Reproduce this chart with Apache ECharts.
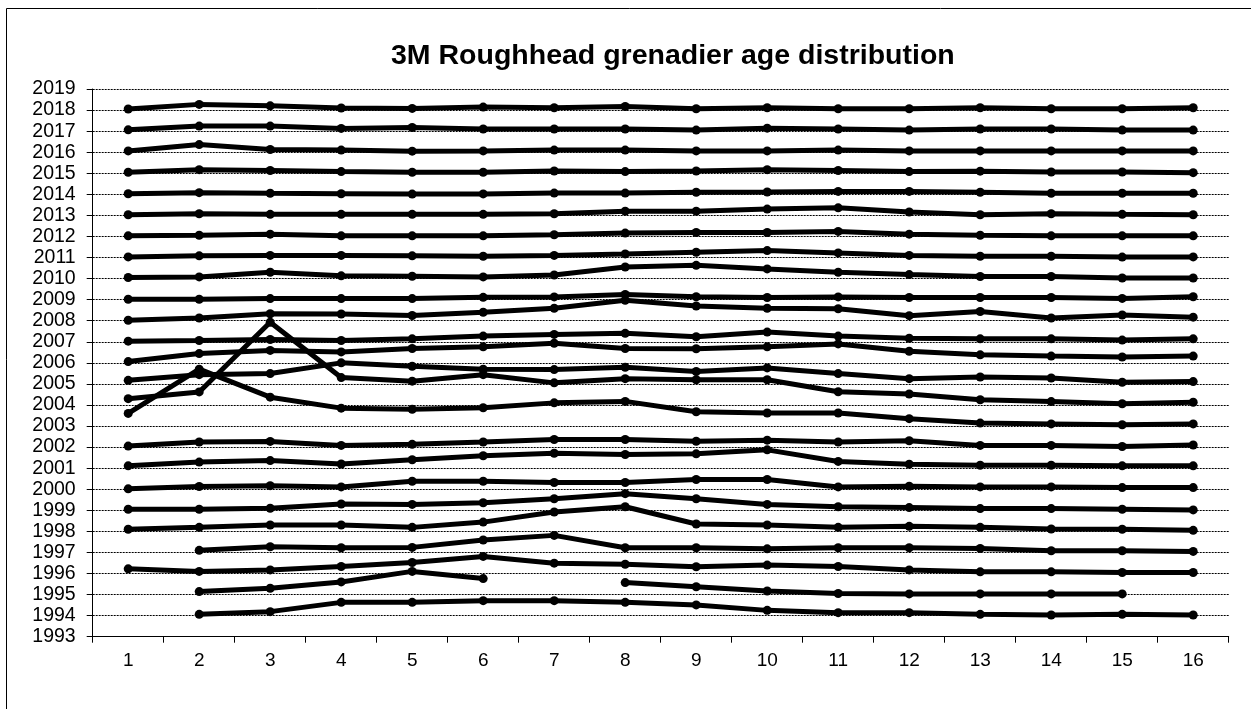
<!DOCTYPE html>
<html>
<head>
<meta charset="utf-8">
<script src="https://cdn.jsdelivr.net/npm/echarts@6/dist/echarts.min.js"></script>
<style>
html,body{margin:0;padding:0;background:#fff;}
#chart{width:1251px;height:709px;}
</style>
</head>
<body>
<div id="chart"></div>
<script>
const titleText = '3M Roughhead grenadier age distribution';
const ages = ['1','2','3','4','5','6','7','8','9','10','11','12','13','14','15','16'];
const yearTicks = {min: 1993, max: 2019, interval: 1};

const y2018 = [2018.05, 2018.27, 2018.2, 2018.1, 2018.08, 2018.14, 2018.11, 2018.17, 2018.06, 2018.11, 2018.06, 2018.06, 2018.11, 2018.06, 2018.06, 2018.11];
const y2017 = [2017.06, 2017.24, 2017.24, 2017.13, 2017.17, 2017.1, 2017.1, 2017.1, 2017.05, 2017.14, 2017.1, 2017.05, 2017.1, 2017.1, 2017.05, 2017.05];
const y2016 = [2016.06, 2016.36, 2016.13, 2016.1, 2016.05, 2016.06, 2016.1, 2016.1, 2016.06, 2016.06, 2016.1, 2016.06, 2016.06, 2016.06, 2016.06, 2016.06];
const y2015 = [2015.05, 2015.17, 2015.13, 2015.08, 2015.05, 2015.05, 2015.11, 2015.08, 2015.11, 2015.17, 2015.13, 2015.08, 2015.1, 2015.06, 2015.06, 2015.03];
const y2014 = [2014.03, 2014.08, 2014.05, 2014.03, 2014.01, 2014.02, 2014.06, 2014.06, 2014.1, 2014.11, 2014.14, 2014.14, 2014.1, 2014.05, 2014.05, 2014.05];
const y2013 = [2013.03, 2013.08, 2013.05, 2013.05, 2013.05, 2013.05, 2013.08, 2013.2, 2013.2, 2013.3, 2013.36, 2013.16, 2013.03, 2013.08, 2013.05, 2013.03];
const y2012 = [2012.03, 2012.06, 2012.11, 2012.03, 2012.03, 2012.03, 2012.08, 2012.16, 2012.19, 2012.19, 2012.24, 2012.11, 2012.06, 2012.03, 2012.03, 2012.03];
const y2011 = [2011.03, 2011.08, 2011.1, 2011.1, 2011.08, 2011.06, 2011.1, 2011.17, 2011.25, 2011.33, 2011.22, 2011.1, 2011.06, 2011.06, 2011.02, 2011.03];
const y2010 = [2010.05, 2010.08, 2010.3, 2010.13, 2010.11, 2010.08, 2010.17, 2010.55, 2010.63, 2010.46, 2010.3, 2010.19, 2010.1, 2010.1, 2010.03, 2010.03];
const y2009 = [2009.02, 2009.02, 2009.05, 2009.05, 2009.05, 2009.11, 2009.13, 2009.25, 2009.14, 2009.1, 2009.13, 2009.1, 2009.1, 2009.1, 2009.06, 2009.14];
const y2008 = [2008.02, 2008.13, 2008.33, 2008.32, 2008.25, 2008.4, 2008.59, 2008.97, 2008.7, 2008.59, 2008.57, 2008.24, 2008.44, 2008.13, 2008.27, 2008.17];
const y2007 = [2007.03, 2007.06, 2007.11, 2007.06, 2007.14, 2007.27, 2007.35, 2007.4, 2007.24, 2007.46, 2007.27, 2007.17, 2007.14, 2007.14, 2007.08, 2007.14];
const y2006 = [2006.06, 2006.44, 2006.59, 2006.52, 2006.68, 2006.76, 2006.93, 2006.68, 2006.67, 2006.76, 2006.9, 2006.55, 2006.38, 2006.32, 2006.28, 2006.32];
const y2005 = [2005.17, 2005.44, 2005.49, 2006.0, 2005.84, 2005.7, 2005.68, 2005.79, 2005.59, 2005.76, 2005.49, 2005.25, 2005.33, 2005.28, 2005.08, 2005.11];
const y2004 = [2004.3, 2004.62, 2007.93, 2005.3, 2005.13, 2005.44, 2005.05, 2005.25, 2005.2, 2005.2, 2004.63, 2004.52, 2004.25, 2004.16, 2004.06, 2004.13];
const y2003 = [2003.6, 2005.7, 2004.37, 2003.85, 2003.8, 2003.87, 2004.1, 2004.17, 2003.68, 2003.62, 2003.62, 2003.35, 2003.14, 2003.1, 2003.06, 2003.1];
const y2002 = [2002.05, 2002.24, 2002.27, 2002.08, 2002.13, 2002.24, 2002.36, 2002.36, 2002.28, 2002.33, 2002.24, 2002.3, 2002.08, 2002.08, 2002.03, 2002.1];
const y2001 = [2001.11, 2001.29, 2001.36, 2001.2, 2001.4, 2001.59, 2001.71, 2001.65, 2001.68, 2001.87, 2001.32, 2001.19, 2001.14, 2001.14, 2001.11, 2001.11];
const y2000 = [2000.02, 2000.13, 2000.17, 2000.11, 2000.38, 2000.38, 2000.32, 2000.32, 2000.46, 2000.46, 2000.11, 2000.14, 2000.11, 2000.11, 2000.08, 2000.08];
const y1999 = [1999.05, 1999.05, 1999.1, 1999.3, 1999.28, 1999.36, 1999.55, 1999.79, 1999.55, 1999.28, 1999.17, 1999.13, 1999.08, 1999.08, 1999.05, 1999.02];
const y1998 = [1998.1, 1998.19, 1998.3, 1998.3, 1998.19, 1998.44, 1998.92, 1999.17, 1998.35, 1998.3, 1998.19, 1998.24, 1998.19, 1998.11, 1998.1, 1998.05];
const y1997 = [null, 1997.1, 1997.27, 1997.22, 1997.24, 1997.59, 1997.81, 1997.22, 1997.22, 1997.17, 1997.22, 1997.22, 1997.19, 1997.08, 1997.08, 1997.05];
const y1996 = [1996.22, 1996.1, 1996.17, 1996.33, 1996.52, 1996.81, 1996.49, 1996.44, 1996.32, 1996.4, 1996.33, 1996.17, 1996.08, 1996.08, 1996.05, 1996.05];
const y1995 = [null, 1995.14, 1995.3, 1995.6, 1996.1, 1995.76, null, 1995.57, 1995.37, 1995.17, 1995.05, 1995.03, 1995.03, 1995.03, 1995.03, null];
const y1994 = [null, 1994.06, 1994.19, 1994.63, 1994.63, 1994.71, 1994.71, 1994.63, 1994.51, 1994.25, 1994.14, 1994.14, 1994.06, 1994.03, 1994.06, 1994.03];

const seriesList = [
  ['2018', y2018], ['2017', y2017], ['2016', y2016], ['2015', y2015], ['2014', y2014],
  ['2013', y2013], ['2012', y2012], ['2011', y2011], ['2010', y2010], ['2009', y2009],
  ['2008', y2008], ['2007', y2007], ['2006', y2006], ['2005', y2005], ['2004', y2004],
  ['2003', y2003], ['2002', y2002], ['2001', y2001], ['2000', y2000], ['1999', y1999],
  ['1998', y1998], ['1997', y1997], ['1996', y1996], ['1995', y1995], ['1994', y1994]
];

const FONT = '"Liberation Sans", Arial, sans-serif';
const chart = echarts.init(document.getElementById('chart'), null, {renderer: 'canvas'});

chart.setOption({
  backgroundColor: '#ffffff',
  animation: false,
  title: {
    text: titleText,
    left: 386,
    top: 37,
    textStyle: {fontFamily: FONT, fontSize: 28.5, fontWeight: 'bold', color: '#000'}
  },
  graphic: [{
    type: 'rect',
    shape: {x: 6.5, y: 8.5, width: 1300, height: 800},
    style: {fill: 'none', stroke: '#000', lineWidth: 1},
    silent: true
  }],
  grid: {left: 92.7, right: 22.3, top: 89, bottom: 72.3, containLabel: false},
  xAxis: {
    type: 'category',
    data: ages,
    boundaryGap: true,
    axisLine: {show: true, lineStyle: {color: '#000', width: 1}},
    axisTick: {show: true, length: 6, inside: false, lineStyle: {color: '#000'}},
    axisLabel: {fontFamily: FONT, fontSize: 19, color: '#000', margin: 15},
    splitLine: {show: false}
  },
  yAxis: {
    type: 'value',
    min: yearTicks.min,
    max: yearTicks.max,
    interval: yearTicks.interval,
    axisLine: {show: true, lineStyle: {color: '#000', width: 1}},
    axisTick: {show: true, length: 6, inside: false, lineStyle: {color: '#000'}},
    axisLabel: {fontFamily: FONT, fontSize: 19.5, color: '#000', margin: 17, formatter: v => String(v)},
    splitLine: {show: true, lineStyle: {color: '#000', width: 1, type: [2, 1]}}
  },
  series: seriesList.map(([name, data]) => ({
    name: name,
    type: 'line',
    data: data,
    connectNulls: false,
    symbol: 'circle',
    symbolSize: 9,
    showSymbol: true,
    lineStyle: {color: '#000', width: 5},
    itemStyle: {color: '#000'},
    emphasis: {disabled: true}
  }))
});
</script>
</body>
</html>
